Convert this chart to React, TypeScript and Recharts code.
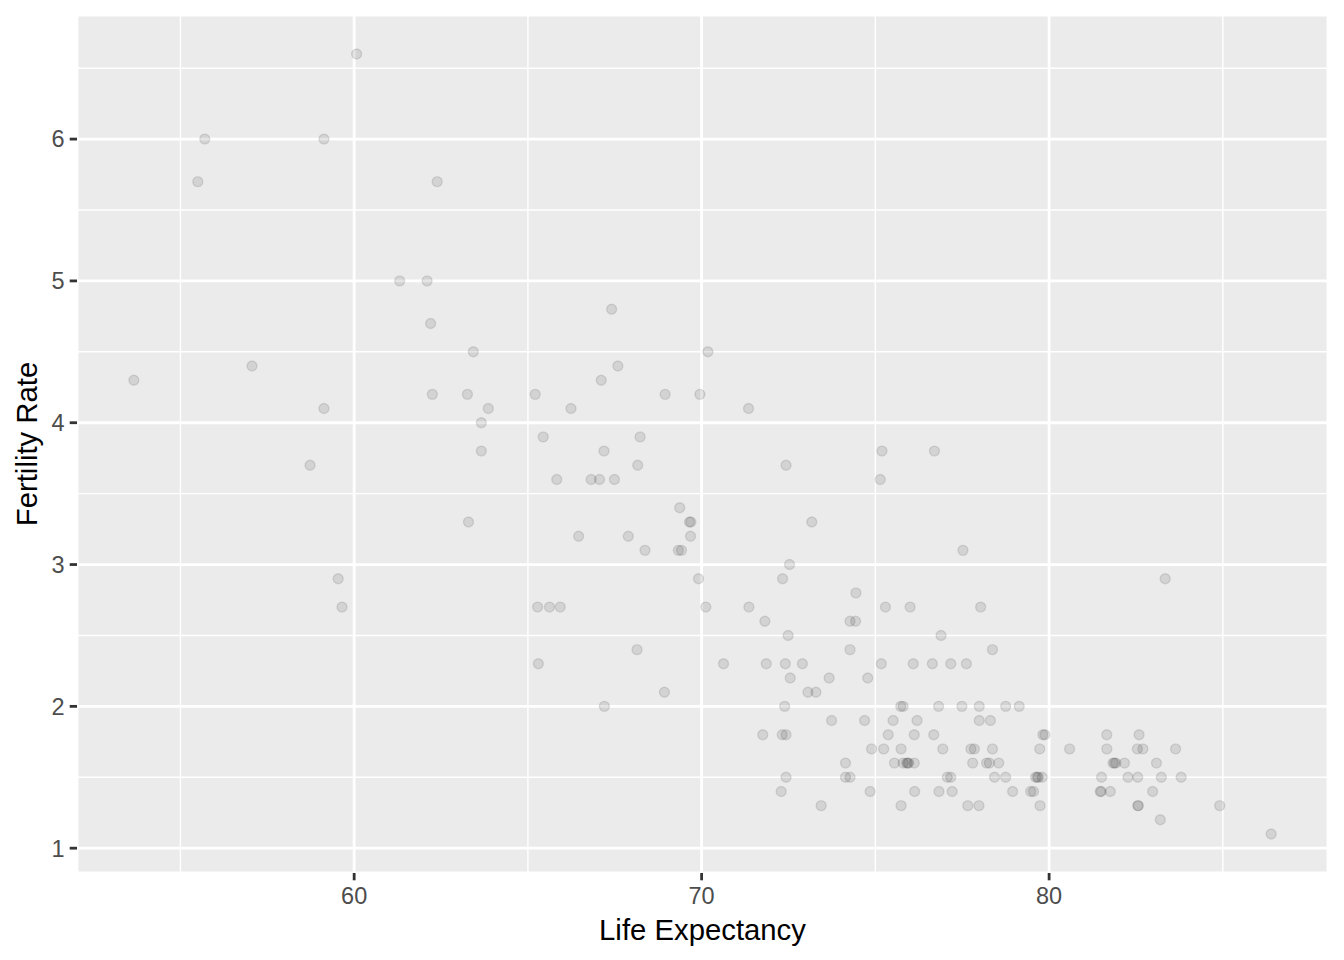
import {
  ScatterChart,
  Scatter,
  XAxis,
  YAxis,
  CartesianGrid,
  ReferenceLine,
  Label,
} from 'recharts';

// fertility rate levels (births per woman), top to bottom
const fertilityLevels = [
  6.6, 6.0, 5.7, 5.0, 4.8, 4.7, 4.5, 4.4, 4.3, 4.2, 4.1, 4.0, 3.9, 3.8, 3.7, 3.6, 3.4, 3.3, 3.2, 3.1,
  3.0, 2.9, 2.8, 2.7, 2.6, 2.5, 2.4, 2.3, 2.2, 2.1, 2.0, 1.9, 1.8, 1.7, 1.6, 1.5, 1.4, 1.3, 1.2, 1.1,
];

// life expectancy of each country, grouped by the fertility level above
const lifeExpectancyByLevel = [
  [60.07],
  [55.7, 59.13],
  [55.5, 62.39],
  [61.31, 62.1],
  [67.41],
  [62.2],
  [63.43, 70.18],
  [57.06, 67.59],
  [53.66, 67.11],
  [62.25, 63.26, 65.21, 68.95, 69.95],
  [59.13, 63.86, 66.24, 71.35],
  [63.66],
  [65.44, 68.23],
  [63.66, 67.19, 75.19, 76.7],
  [58.73, 68.16, 72.43],
  [65.83, 66.82, 67.06, 67.49, 75.14],
  [69.37],
  [63.29, 69.65, 69.69, 73.17],
  [66.46, 67.89, 69.68],
  [68.37, 69.33, 69.42, 77.52],
  [72.53],
  [59.54, 69.91, 72.33, 83.34],
  [74.44],
  [59.65, 65.28, 65.62, 65.93, 70.12, 71.36, 75.29, 76.0, 78.03],
  [71.82, 74.27, 74.43],
  [72.49, 76.89],
  [68.14, 74.27, 78.37],
  [65.3, 70.63, 71.86, 72.41, 72.9, 75.17, 76.09, 76.64, 77.17, 77.62],
  [72.55, 73.67, 74.78],
  [68.93, 73.06, 73.29],
  [67.2, 72.39, 75.73, 75.8, 76.82, 77.49, 77.99, 78.75, 79.14],
  [73.74, 74.69, 75.51, 76.2, 77.99, 78.31],
  [71.76, 72.32, 72.43, 75.37, 76.12, 76.68, 79.82, 79.88, 81.66, 82.59],
  [74.89, 75.24, 75.74, 76.94, 77.75, 77.85, 78.37, 79.73, 80.59, 81.66, 82.54, 82.7, 83.64],
  [74.14, 75.55, 75.8, 75.9, 75.93, 75.96, 76.12, 77.8, 78.2, 78.28, 78.55, 81.84, 81.88, 81.92, 82.17, 83.09],
  [72.43, 74.14, 74.27, 77.07, 77.17, 78.43, 78.75, 79.61, 79.66, 79.69, 79.8, 81.51, 82.27, 82.55, 83.23, 83.8],
  [72.29, 74.85, 76.13, 76.83, 77.21, 78.95, 79.47, 79.55, 81.47, 81.5, 81.76, 82.98],
  [73.44, 75.74, 77.66, 77.98, 79.74, 82.55, 82.57, 84.91],
  [83.2],
  [86.39],
];

const xTicks = [60, 70, 80];
const yTicks = [1, 2, 3, 4, 5, 6];
const xMinor = [55, 65, 75, 85];
const yMinor = [1.5, 2.5, 3.5, 4.5, 5.5, 6.5];

const points = fertilityLevels.flatMap((rate, i) =>
  lifeExpectancyByLevel[i].map((life) => ({ life, rate }))
);

// ggplot style 5% expansion
const expand = (vals: number[]): [number, number] => {
  const lo = Math.min(...vals);
  const hi = Math.max(...vals);
  const pad = (hi - lo) * 0.05;
  return [lo - pad, hi + pad];
};
const xDomain = expand(points.map((p) => p.life));
const yDomain = expand(points.map((p) => p.rate));

const FONT = '"Liberation Sans", Arial, Helvetica, sans-serif';
const tickStyle = { fill: '#4D4D4D', fontSize: 23.5, fontFamily: FONT };

const Dot = (props: any) => (
  <circle
    cx={props.cx}
    cy={props.cy}
    r={5}
    fill="#000"
    fillOpacity={0.1}
    stroke="#000"
    strokeOpacity={0.1}
    strokeWidth={1.4}
  />
);

const YTitle = (props: any) => {
  const { viewBox } = props;
  const cx = viewBox.x + 37;
  const cy = viewBox.y + viewBox.height / 2;
  return (
    <text
      x={cx}
      y={cy}
      transform={`rotate(-90, ${cx}, ${cy})`}
      textAnchor="middle"
      fill="#000"
      fontSize={29.3}
      fontFamily={FONT}
    >
      Fertility Rate
    </text>
  );
};

export default function App() {
  return (
    <div style={{ position: 'absolute', left: 0, top: 0, width: 1344, height: 960, background: '#fff' }}>
      <ScatterChart width={1344} height={960} margin={{ top: 15, right: 16, bottom: 0, left: 0 }}>
        <CartesianGrid fill="#EBEBEB" stroke="#FFFFFF" strokeWidth={2.8} />
        {xMinor.map((v) => (
          <ReferenceLine key={'x' + v} x={v} stroke="#FFFFFF" strokeWidth={1.4} />
        ))}
        {yMinor.map((v) => (
          <ReferenceLine key={'y' + v} y={v} stroke="#FFFFFF" strokeWidth={1.4} />
        ))}
        <XAxis
          type="number"
          dataKey="life"
          domain={xDomain}
          ticks={xTicks}
          allowDataOverflow
          height={87}
          axisLine={false}
          tickLine={{ stroke: '#333333', strokeWidth: 2.8 }}
          tickSize={7.3}
          tickMargin={7}
          tick={tickStyle}
        >
          <Label
            value="Life Expectancy"
            position="insideBottom"
            offset={20}
            style={{ fill: '#000', fontSize: 29.3, fontFamily: FONT }}
          />
        </XAxis>
        <YAxis
          type="number"
          dataKey="rate"
          domain={yDomain}
          ticks={yTicks}
          allowDataOverflow
          width={77}
          axisLine={false}
          tickLine={{ stroke: '#333333', strokeWidth: 2.8 }}
          tickSize={7.3}
          tickMargin={5}
          tick={tickStyle}
        >
          <Label content={<YTitle />} />
        </YAxis>
        <Scatter data={points} shape={<Dot />} isAnimationActive={false} />
      </ScatterChart>
    </div>
  );
}
